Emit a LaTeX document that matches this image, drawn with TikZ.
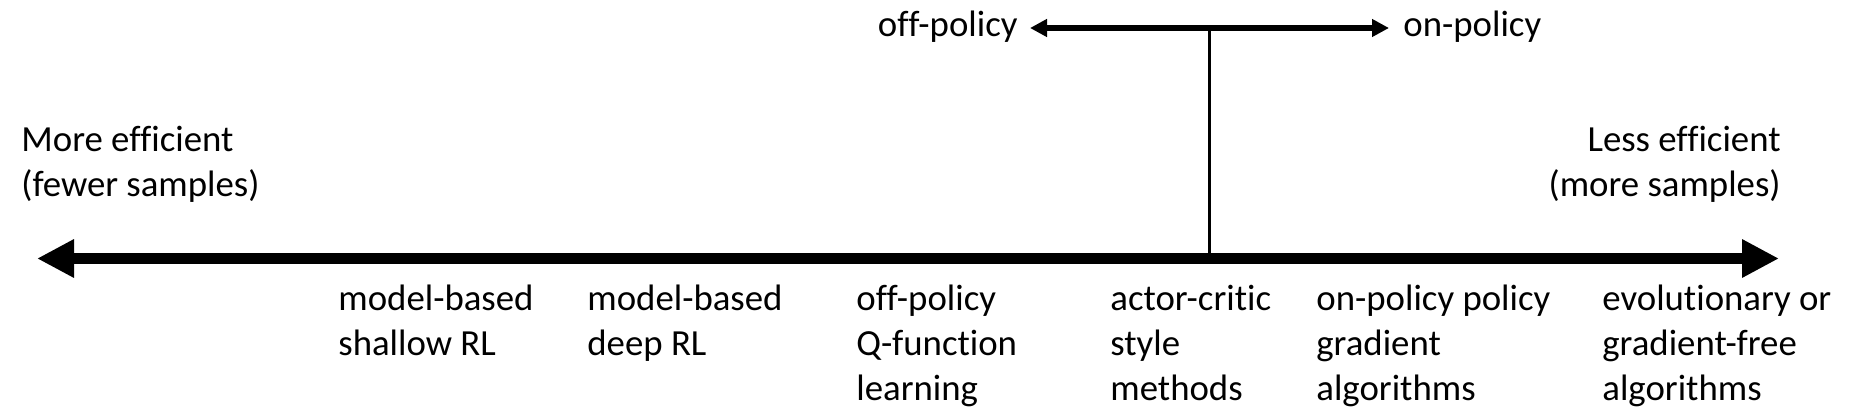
\documentclass[tikz,border=0pt]{standalone}
\usepackage{fontspec}
\setmainfont{Carlito}[Ligatures=NoCommon]
\usetikzlibrary{arrows.meta}
\begin{document}
\begin{tikzpicture}[x=0.5pt,y=-0.5pt,
  lbl/.style={inner sep=0pt,font=\fontsize{18.4pt}{22.5pt}\selectfont},
  item/.style={lbl,align=left,anchor=base west},
  mainarrow/.style={line width=5.5pt,{Triangle[length=18.5pt,width=18pt]}-{Triangle[length=18.5pt,width=18pt]}},
  toparrow/.style={line width=2.6pt,{Triangle[length=8.5pt,width=8.5pt]}-{Triangle[length=8.5pt,width=8.5pt]}},
  stem/.style={line width=1.5pt}]
\useasboundingbox (0,0) rectangle (1849,417);
\coordinate (mL) at (37,258.5);
\coordinate (mR) at (1779,258.5);
\coordinate (mJ) at (1209,258.5);
\coordinate (junc) at (1209,28);
\coordinate (tL) at (1030,28);
\coordinate (tR) at (1389,28);
\draw[mainarrow] (mL) -- (mR);
\draw[stem] (mJ) -- (junc);
\draw[toparrow] (tL) -- (tR);
\node[lbl,anchor=base east] (offp) at (1018,37) {off-policy};
\node[lbl,anchor=base west] (onp) at (1403,37) {on-policy};
\node[item] (more) at (21,197) {More efficient\\(fewer samples)};
\node[lbl,align=right,anchor=base east] (less) at (1781,197) {Less efficient\\(more samples)};
\node[item] (i1) at (338,355) {model-based\\shallow RL};
\node[item] (i2) at (587,355) {model-based\\deep RL};
\node[item] (i3) at (856,400) {off-policy\\Q-function\\learning};
\node[item] (i4) at (1110,400) {actor-critic\\style\\methods};
\node[item] (i5) at (1316,400) {on-policy policy\\gradient\\algorithms};
\node[item] (i6) at (1602,400) {evolutionary or\\gradient-free\\algorithms};
\end{tikzpicture}
\end{document}
